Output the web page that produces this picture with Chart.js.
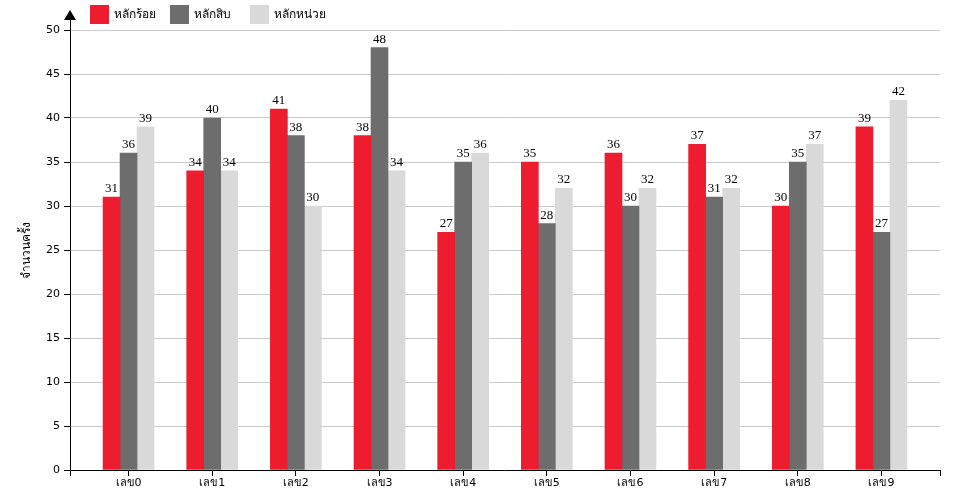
<!DOCTYPE html>
<html lang="th">
  <head>
    <meta charset="UTF-8" />
    <title>สถิติเลข</title>
    <style>
      body { margin: 0; background: #fff; }
      #wrap { width: 960px; height: 500px; }
    </style>
  </head>
  <body>
    <div id="wrap"><canvas id="chart" width="960" height="500"></canvas></div>
    <script src="https://cdn.jsdelivr.net/npm/chart.js@4.4.0/dist/chart.umd.min.js"></script>
    <script>
      // ข้อมูล
      var categories = ['เลข0', 'เลข1', 'เลข2', 'เลข3', 'เลข4', 'เลข5', 'เลข6', 'เลข7', 'เลข8', 'เลข9'];
      var seriesNames = ['หลักร้อย', 'หลักสิบ', 'หลักหน่วย'];
      var hundreds = [31, 34, 41, 38, 27, 35, 36, 37, 30, 39];
      var tens = [36, 40, 38, 48, 35, 28, 30, 31, 35, 27];
      var units = [39, 34, 30, 34, 36, 32, 32, 32, 37, 42];
      var yTicks = [0, 5, 10, 15, 20, 25, 30, 35, 40, 45, 50];
      var yTitle = 'จำนวนครั้ง';

      var colors = ['#ed1c2e', '#6d6d6d', '#d9d9d9'];
      var xMin = -0.7;
      var xMax = categories.length - 1 + 0.7;

      function toPoints(arr) {
        return arr.map(function (v, i) {
          return { x: i, y: v };
        });
      }

      var datasets = [hundreds, tens, units].map(function (arr, k) {
        return {
          label: seriesNames[k],
          data: toPoints(arr),
          backgroundColor: colors[k],
          borderWidth: 0,
          barThickness: 17,
        };
      });

      // ป้ายค่าเหนือแท่ง, legend, ลูกศรแกน y
      var extras = {
        id: 'extras',
        afterDatasetsDraw: function (chart) {
          var ctx = chart.ctx;
          ctx.save();
          ctx.font = '13px "Liberation Serif", serif';
          ctx.fillStyle = '#000';
          ctx.textAlign = 'center';
          ctx.textBaseline = 'alphabetic';
          chart.data.datasets.forEach(function (ds, k) {
            chart.getDatasetMeta(k).data.forEach(function (bar, i) {
              ctx.fillText(String(ds.data[i].y), bar.x, bar.y - 5);
            });
          });
          ctx.restore();
        },
        afterDraw: function (chart) {
          var ctx = chart.ctx;
          var area = chart.chartArea;
          ctx.save();
          // ลูกศร
          ctx.strokeStyle = '#000';
          ctx.lineWidth = 1;
          ctx.beginPath();
          ctx.moveTo(area.left + 0.5, area.top);
          ctx.lineTo(area.left + 0.5, 18);
          ctx.stroke();
          ctx.fillStyle = '#000';
          ctx.beginPath();
          ctx.moveTo(area.left, 10);
          ctx.lineTo(area.left - 6, 20);
          ctx.lineTo(area.left + 6, 20);
          ctx.closePath();
          ctx.fill();
          // legend
          ctx.font = '12px "DejaVu Sans", sans-serif';
          ctx.textBaseline = 'middle';
          ctx.textAlign = 'left';
          chart.data.datasets.forEach(function (ds, k) {
            var x = 90 + k * 80;
            ctx.fillStyle = ds.backgroundColor;
            ctx.fillRect(x, 5, 19, 19);
            ctx.fillStyle = '#000';
            ctx.fillText(ds.label, x + 24, 15);
          });
          ctx.restore();
        },
      };

      new Chart(document.getElementById('chart'), {
        type: 'bar',
        data: { datasets: datasets },
        options: {
          responsive: false,
          animation: false,
          layout: { padding: { top: 30, right: 20, left: 0, bottom: 0 } },
          plugins: {
            legend: { display: false },
            tooltip: { enabled: false },
          },
          scales: {
            x: {
              type: 'linear',
              min: xMin,
              max: xMax,
              offset: false,
              afterBuildTicks: function (scale) {
                var t = [{ value: xMin }];
                categories.forEach(function (c, i) {
                  t.push({ value: i });
                });
                t.push({ value: xMax });
                scale.ticks = t;
              },
              afterFit: function (scale) {
                scale.height = 30;
              },
              ticks: {
                autoSkip: false,
                maxRotation: 0,
                padding: 1,
                color: '#000',
                font: { family: '"DejaVu Sans", sans-serif', size: 11 },
                callback: function (v) {
                  return Number.isInteger(v) ? categories[v] : '';
                },
              },
              grid: {
                offset: false,
                drawOnChartArea: false,
                tickLength: 6,
                tickColor: '#000',
              },
              border: { color: '#000', width: 1 },
            },
            y: {
              min: 0,
              max: 50,
              afterBuildTicks: function (scale) {
                scale.ticks = yTicks.map(function (v) {
                  return { value: v };
                });
              },
              afterFit: function (scale) {
                scale.width = 70;
              },
              title: {
                display: true,
                text: yTitle,
                color: '#000',
                font: { family: '"DejaVu Sans", sans-serif', size: 12 },
                padding: { top: 20, bottom: 0 },
              },
              ticks: {
                padding: 4,
                color: '#000',
                font: { family: '"DejaVu Sans", sans-serif', size: 11 },
              },
              grid: {
                color: '#cccccc',
                tickLength: 6,
                tickColor: '#000',
              },
              border: { color: '#000', width: 1 },
            },
          },
        },
        plugins: [extras],
      });
    </script>
  </body>
</html>
